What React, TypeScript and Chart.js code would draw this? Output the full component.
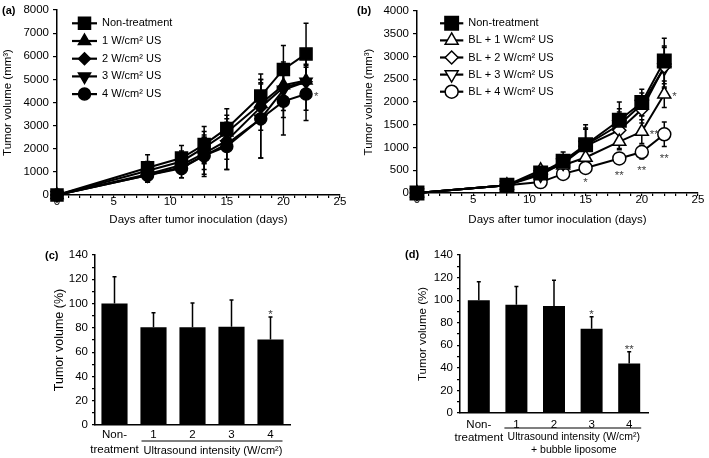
import React, { useEffect, useRef } from 'react';
import { Chart, registerables } from 'chart.js';
import { drawPoint } from 'chart.js/helpers';

Chart.register(...registerables);

const FONT = "'Liberation Sans', Arial, Helvetica, sans-serif";
Chart.defaults.font.family = FONT;
Chart.defaults.color = '#000';

// ---------------- data ----------------
const days = [0, 8, 11, 13, 15, 18, 20, 22];

// panel (a)
const labelsA = ['Non-treatment', '1 W/cm² US', '2 W/cm² US', '3 W/cm² US', '4 W/cm² US'];
const aNon = [0, 1180, 1600, 2180, 2880, 4280, 5430, 6100];
const aNonErr = [0, 560, 540, 780, 850, 950, 1030, 1330];
const aUS1 = [0, 1050, 1450, 2050, 2700, 3950, 4750, 4950];
const aUS1Err = [0, 400, 450, 700, 750, 900, 900, 700];
const aUS2 = [0, 900, 1300, 1800, 2350, 3800, 4650, 4900];
const aUS2Err = [0, 350, 400, 700, 800, 1000, 1000, 700];
const aUS3 = [0, 850, 1200, 1700, 2200, 3300, 4550, 4900];
const aUS3Err = [0, 300, 450, 900, 1100, 1700, 1200, 1230];
const aUS4 = [0, 850, 1150, 1700, 2100, 3300, 4050, 4370];
const aUS4Err = [0, 300, 400, 800, 1000, 1700, 1450, 1150];

// panel (b)
const labelsB = ['Non-treatment', 'BL + 1 W/cm² US', 'BL + 2 W/cm² US', 'BL + 3 W/cm² US', 'BL + 4 W/cm² US'];
const bNon = [0, 170, 440, 700, 1060, 1600, 1990, 2900];
const bNonErr = [0, 40, 100, 200, 440, 400, 290, 500];
const bBL1 = [0, 170, 500, 610, 780, 1130, 1350, 2170];
const bBL1Err = [0, 40, 80, 100, 150, 180, 260, 290];
const bBL2 = [0, 170, 430, 650, 1030, 1380, 1840, 2780];
const bBL2Err = [0, 40, 100, 150, 400, 400, 300, 450];
const bBL3 = [0, 170, 400, 660, 1050, 1500, 1950, 2750];
const bBL3Err = [0, 40, 100, 150, 350, 350, 250, 450];
const bBL4 = [0, 170, 240, 420, 550, 760, 900, 1290];
const bBL4Err = [0, 40, 60, 80, 60, 120, 150, 270];

// significance marks: [series index, day index, text, placement]
const starsA: [number, number, string, string][] = [[4, 7, '*', 'right']];
const starsB: [number, number, string, string][] = [
  [1, 7, '*', 'right'],
  [1, 6, '**', 'right'],
  [4, 4, '*', 'below'],
  [4, 5, '**', 'below'],
  [4, 6, '**', 'below'],
  [4, 7, '**', 'below'],
];

// panels (c) and (d)
const barCategories = [['Non-', 'treatment'], '1', '2', '3', '4'];
const cValues = [100, 80.5, 80.5, 81, 70.5];
const cErrors = [22, 12, 20, 22, 18.5];
const cStars = ['', '', '', '', '*'];
const cGroupLabel = ['Ultrasound intensity (W/cm²)'];

const dValues = [100, 96, 94.7, 74.6, 43.8];
const dErrors = [16.3, 16, 23, 10.6, 10.4];
const dStars = ['', '', '', '*', '**'];
const dGroupLabel = ['Ultrasound intensity (W/cm²)', '+ bubble liposome'];

const xTitle = 'Days after tumor inoculation (days)';
const yTitleLine = 'Tumor volume (mm³)';
const yTitleBar = 'Tumor volume (%)';

// ---------------- styles ----------------
const markerA = [
  { style: 'rect', rot: 0, r: 8.5, fill: '#000' },
  { style: 'triangle', rot: 0, r: 7, fill: '#000' },
  { style: 'rectRot', rot: 0, r: 6, fill: '#000' },
  { style: 'triangle', rot: 180, r: 7, fill: '#000' },
  { style: 'circle', rot: 0, r: 6, fill: '#000' },
];
const markerB = [
  { style: 'rect', rot: 0, r: 9.5, fill: '#000' },
  { style: 'triangle', rot: 0, r: 7.5, fill: '#fff' },
  { style: 'rectRot', rot: 0, r: 6.5, fill: '#fff' },
  { style: 'triangle', rot: 180, r: 7.5, fill: '#fff' },
  { style: 'circle', rot: 0, r: 6.5, fill: '#fff' },
];

const FS = 11.5;

function lineDatasets(labels: string[], values: number[][], markers: any[]) {
  return labels.map((label, i) => ({
    label,
    data: days.map((d, j) => ({ x: d, y: values[i][j] })),
    borderColor: '#000',
    backgroundColor: markers[i].fill,
    borderWidth: 2,
    pointStyle: markers[i].style,
    pointRotation: markers[i].rot,
    pointRadius: markers[i].r,
    pointBackgroundColor: markers[i].fill,
    pointBorderColor: '#000',
    pointBorderWidth: 1.5,
    tension: 0,
    clip: false as any,
  }));
}

function legendPlugin(cfg: { x1: number; x2: number; textX: number; y0: number; dy: number }) {
  return {
    id: 'customLegend',
    afterDraw(chart: any) {
      const ctx = chart.ctx;
      ctx.save();
      chart.data.datasets.forEach((ds: any, i: number) => {
        const y = cfg.y0 + i * cfg.dy;
        ctx.strokeStyle = '#000';
        ctx.lineWidth = 2.2;
        ctx.beginPath();
        ctx.moveTo(cfg.x1, y);
        ctx.lineTo(cfg.x2, y);
        ctx.stroke();
        ctx.fillStyle = ds.pointBackgroundColor;
        ctx.strokeStyle = '#000';
        ctx.lineWidth = ds.pointBorderWidth;
        drawPoint(ctx, { pointStyle: ds.pointStyle, rotation: ds.pointRotation, radius: ds.pointRadius, borderWidth: ds.pointBorderWidth } as any, (cfg.x1 + cfg.x2) / 2, y);
        ctx.fillStyle = '#000';
        ctx.font = `${FS - 0.5}px ${FONT}`;
        ctx.textAlign = 'left';
        ctx.textBaseline = 'middle';
        ctx.fillText(ds.label, cfg.textX, y);
      });
      ctx.restore();
    },
  };
}

function lineErrorPlugin(errs: number[][], stars: [number, number, string, string][]) {
  return {
    id: 'lineErrors',
    beforeDatasetsDraw(chart: any) {
      const ctx = chart.ctx;
      const ys = chart.scales.y;
      ctx.save();
      ctx.strokeStyle = '#000';
      ctx.lineWidth = 1.5;
      for (let i = errs.length - 1; i >= 0; i--) {
        const meta = chart.getDatasetMeta(i);
        meta.data.forEach((pt: any, j: number) => {
          const e = errs[i][j];
          if (!e) return;
          const v = chart.data.datasets[i].data[j].y;
          const top = ys.getPixelForValue(v + e);
          const bot = ys.getPixelForValue(v - e);
          ctx.beginPath();
          ctx.moveTo(pt.x, top);
          ctx.lineTo(pt.x, bot);
          ctx.moveTo(pt.x - 2.5, top);
          ctx.lineTo(pt.x + 2.5, top);
          ctx.moveTo(pt.x - 2.5, bot);
          ctx.lineTo(pt.x + 2.5, bot);
          ctx.stroke();
        });
      }
      ctx.restore();
    },
    afterDatasetsDraw(chart: any) {
      const ctx = chart.ctx;
      const ys = chart.scales.y;
      ctx.save();
      ctx.fillStyle = '#444';
      ctx.font = `${FS}px ${FONT}`;
      stars.forEach(([si, di, text, place]) => {
        const pt = chart.getDatasetMeta(si).data[di];
        const v = chart.data.datasets[si].data[di].y;
        ctx.textBaseline = 'alphabetic';
        if (place === 'right') {
          ctx.textAlign = 'left';
          ctx.fillText(text, pt.x + 8, pt.y + 6);
        } else {
          ctx.textAlign = 'center';
          const bot = ys.getPixelForValue(v - errs[si][di]);
          ctx.fillText(text, pt.x, bot + 15);
        }
      });
      ctx.restore();
    },
  };
}

function barExtrasPlugin(errs: number[], stars: string[], group: string[], cfg: { lineDy: number; textDy: number; lineH: number; font: number }) {
  return {
    id: 'barExtras',
    afterDatasetsDraw(chart: any) {
      const ctx = chart.ctx;
      const ys = chart.scales.y;
      const xs = chart.scales.x;
      const meta = chart.getDatasetMeta(0);
      ctx.save();
      ctx.strokeStyle = '#000';
      ctx.lineWidth = 1.5;
      meta.data.forEach((bar: any, i: number) => {
        const v = chart.data.datasets[0].data[i];
        const top = ys.getPixelForValue(v + errs[i]);
        ctx.beginPath();
        ctx.moveTo(bar.x, bar.y);
        ctx.lineTo(bar.x, top);
        ctx.moveTo(bar.x - 2, top);
        ctx.lineTo(bar.x + 2, top);
        ctx.stroke();
        if (stars[i]) {
          ctx.fillStyle = '#444';
          ctx.font = `${FS}px ${FONT}`;
          ctx.textAlign = 'center';
          ctx.textBaseline = 'alphabetic';
          ctx.fillText(stars[i], bar.x, top + 1);
        }
      });
      // group underline and label
      const bottom = chart.chartArea.bottom;
      const x1 = xs.getPixelForValue(1) - 12;
      const x4 = xs.getPixelForValue(4) + 12;
      ctx.lineWidth = 1.2;
      ctx.beginPath();
      ctx.moveTo(x1, bottom + cfg.lineDy);
      ctx.lineTo(x4, bottom + cfg.lineDy);
      ctx.stroke();
      ctx.fillStyle = '#000';
      ctx.font = `${cfg.font}px ${FONT}`;
      ctx.textAlign = 'center';
      ctx.textBaseline = 'middle';
      group.forEach((t, k) => {
        ctx.fillText(t, (x1 + x4) / 2 + 1, bottom + cfg.textDy + k * cfg.lineH);
      });
      ctx.restore();
    },
  };
}

const axisBorder = { display: true, color: '#000', width: 1.5 };
const tickGrid = (len: number) => ({ display: true, drawOnChartArea: false, drawTicks: true, tickLength: len, color: '#000', lineWidth: 1.2 });

function lineConfig(opts: {
  labels: string[]; values: number[][]; errs: number[][]; markers: any[]; stars: any;
  yMax: number; yStep: number; padLeft: number; yWidth: number; xHeight: number; padTop: number; padRight: number;
  legend: any; yTitlePad: number;
}) {
  return {
    type: 'line',
    data: { datasets: lineDatasets(opts.labels, opts.values, opts.markers) },
    options: {
      animation: false,
      responsive: false,
      events: [],
      layout: { padding: { top: opts.padTop, right: opts.padRight, left: opts.padLeft, bottom: 0 } },
      plugins: { legend: { display: false }, tooltip: { enabled: false } },
      scales: {
        x: {
          type: 'linear',
          min: 0,
          max: 25,
          afterFit: (s: any) => { s.height = opts.xHeight; s.paddingLeft = 0; s.paddingRight = 0; },
          border: axisBorder,
          grid: tickGrid(3),
          ticks: {
            stepSize: 1,
            autoSkip: false,
            maxRotation: 0,
            padding: -3,
            color: '#000',
            font: { size: FS },
            callback: (v: any) => (v % 5 === 0 ? String(v) : ''),
          },
          title: { display: true, text: xTitle, color: '#000', font: { size: FS }, padding: { top: 0, bottom: 5 } },
        },
        y: {
          min: 0,
          max: opts.yMax,
          afterFit: (s: any) => { s.width = opts.yWidth; s.paddingTop = 0; s.paddingBottom = 0; },
          border: axisBorder,
          grid: tickGrid(4),
          ticks: { stepSize: opts.yStep, padding: 4, color: '#000', font: { size: FS }, callback: (v: any) => String(v) },
          title: { display: true, text: yTitleLine, color: '#000', font: { size: FS }, padding: { top: opts.yTitlePad, bottom: 0 } },
        },
      },
    },
    plugins: [lineErrorPlugin(opts.errs, opts.stars), legendPlugin(opts.legend)],
  };
}

function barConfig(opts: {
  values: number[]; errs: number[]; stars: string[]; group: string[]; barPct: number;
  padLeft: number; yWidth: number; xHeight: number; padTop: number; padRight: number;
  tickPad: number; tickLineH: number; groupCfg: any; yTitlePad: number; yTitleFont: number;
}) {
  return {
    type: 'bar',
    data: {
      labels: barCategories,
      datasets: [{ data: opts.values, backgroundColor: '#000', barPercentage: opts.barPct, categoryPercentage: 1 }],
    },
    options: {
      animation: false,
      responsive: false,
      events: [],
      layout: { padding: { top: opts.padTop, right: opts.padRight, left: opts.padLeft, bottom: 0 } },
      plugins: { legend: { display: false }, tooltip: { enabled: false } },
      scales: {
        x: {
          afterFit: (s: any) => { s.height = opts.xHeight; s.paddingLeft = 0; s.paddingRight = 0; },
          border: axisBorder,
          grid: { display: false, drawTicks: false, tickLength: 0 },
          ticks: { padding: opts.tickPad, maxRotation: 0, autoSkip: false, color: '#000', font: { size: FS, lineHeight: opts.tickLineH / FS } },
        },
        y: {
          min: 0,
          max: 140,
          afterFit: (s: any) => { s.width = opts.yWidth; s.paddingTop = 0; s.paddingBottom = 0; },
          border: axisBorder,
          grid: tickGrid(3),
          ticks: { stepSize: 10, autoSkip: false, padding: 4, color: '#000', font: { size: FS }, callback: (v: any) => (v % 20 === 0 ? String(v) : '') },
          title: { display: true, text: yTitleBar, color: '#000', font: { size: opts.yTitleFont }, padding: { top: opts.yTitlePad, bottom: 0 } },
        },
      },
    },
    plugins: [barExtrasPlugin(opts.errs, opts.stars, opts.group, opts.groupCfg)],
  };
}

function Panel(props: { left: number; top: number; width: number; height: number; config: any }) {
  const ref = useRef<HTMLCanvasElement | null>(null);
  useEffect(() => {
    if (!ref.current) return;
    const chart = new Chart(ref.current, props.config);
    return () => chart.destroy();
  }, []);
  return (
    <canvas
      ref={ref}
      width={props.width}
      height={props.height}
      style={{ position: 'absolute', left: props.left, top: props.top, width: props.width, height: props.height }}
    />
  );
}

const panelLabelStyle = (left: number, top: number): React.CSSProperties => ({
  position: 'absolute', left, top, fontFamily: FONT, fontWeight: 'bold', fontSize: 11, lineHeight: '14px', color: '#000',
});

export default function App() {
  const cfgA = lineConfig({
    labels: labelsA,
    values: [aNon, aUS1, aUS2, aUS3, aUS4],
    errs: [aNonErr, aUS1Err, aUS2Err, aUS3Err, aUS4Err],
    markers: markerA,
    stars: starsA,
    yMax: 8000, yStep: 1000,
    padLeft: 0, yWidth: 57, xHeight: 37, padTop: 6, padRight: 9,
    legend: { x1: 72, x2: 97, textX: 102, y0: 23.3, dy: 17.7 },
    yTitlePad: 0.6,
  });
  const cfgB = lineConfig({
    labels: labelsB,
    values: [bNon, bBL1, bBL2, bBL3, bBL4],
    errs: [bNonErr, bBL1Err, bBL2Err, bBL3Err, bBL4Err],
    markers: markerB,
    stars: starsB,
    yMax: 4000, yStep: 500,
    padLeft: 12, yWidth: 55, xHeight: 39, padTop: 6, padRight: 9,
    legend: { x1: 90, x2: 113.3, textX: 118.3, y0: 23.3, dy: 17.1 },
    yTitlePad: 0,
  });
  const cfgC = barConfig({
    values: cValues, errs: cErrors, stars: cStars, group: cGroupLabel, barPct: 0.67,
    padLeft: 52, yWidth: 43, xHeight: 33, padTop: 23, padRight: 60,
    tickPad: 2, tickLineH: 15.5, groupCfg: { lineDy: 16, textDy: 25.5, lineH: 13, font: 11 }, yTitlePad: 0.5, yTitleFont: 12.5,
  });
  const cfgD = barConfig({
    values: dValues, errs: dErrors, stars: dStars, group: dGroupLabel, barPct: 0.585,
    padLeft: 66, yWidth: 44, xHeight: 45, padTop: 23, padRight: 61,
    tickPad: 5, tickLineH: 13, groupCfg: { lineDy: 15, textDy: 24.3, lineH: 12.8, font: 10.5 }, yTitlePad: 0, yTitleFont: 11.5,
  });
  return (
    <div style={{ position: 'fixed', left: 0, top: 0, width: 709, height: 458, background: '#fff', overflow: 'hidden' }}>
      <Panel left={0} top={0} width={350} height={232} config={cfgA} />
      <Panel left={350} top={0} width={359} height={232} config={cfgB} />
      <Panel left={0} top={232} width={350} height={226} config={cfgC} />
      <Panel left={350} top={232} width={359} height={226} config={cfgD} />
      <div style={panelLabelStyle(2, 3)}>(a)</div>
      <div style={panelLabelStyle(357, 3)}>(b)</div>
      <div style={panelLabelStyle(45, 248)}>(c)</div>
      <div style={panelLabelStyle(405, 247)}>(d)</div>
    </div>
  );
}
